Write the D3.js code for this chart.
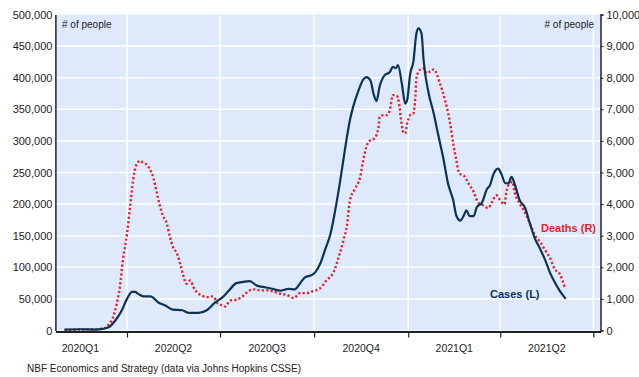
<!DOCTYPE html>
<html>
<head>
<meta charset="utf-8">
<script src="https://cdn.jsdelivr.net/npm/d3@7"></script>
<style>
  html, body { margin: 0; padding: 0; background: #ffffff; }
  svg { display: block; font-family: "Liberation Sans", Arial, sans-serif; }
</style>
</head>
<body>
<svg id="chart" width="639" height="377"></svg>
<script>
// Daily new cases (7-day average), left axis
const caseDates = ["2020-01-31","2020-02-15","2020-03-01","2020-03-08","2020-03-14","2020-03-22","2020-03-27","2020-04-01","2020-04-06","2020-04-09","2020-04-12","2020-04-17","2020-04-24","2020-05-02","2020-05-08","2020-05-16","2020-05-25","2020-05-31","2020-06-10","2020-06-18","2020-06-26","2020-07-03","2020-07-09","2020-07-17","2020-07-24","2020-07-30","2020-08-06","2020-08-12","2020-08-21","2020-08-29","2020-09-06","2020-09-12","2020-09-17","2020-09-22","2020-09-29","2020-10-02","2020-10-07","2020-10-12","2020-10-17","2020-10-21","2020-10-26","2020-10-31","2020-11-05","2020-11-08","2020-11-13","2020-11-18","2020-11-21","2020-11-25","2020-11-28","2020-12-01","2020-12-04","2020-12-09","2020-12-14","2020-12-17","2020-12-20","2020-12-22","2020-12-26","2020-12-29","2020-12-31","2021-01-03","2021-01-06","2021-01-09","2021-01-11","2021-01-14","2021-01-16","2021-01-21","2021-01-26","2021-01-30","2021-02-04","2021-02-09","2021-02-14","2021-02-17","2021-02-21","2021-02-24","2021-02-27","2021-03-02","2021-03-06","2021-03-09","2021-03-14","2021-03-19","2021-03-22","2021-03-25","2021-03-30","2021-04-02","2021-04-06","2021-04-09","2021-04-12","2021-04-15","2021-04-20","2021-04-25","2021-04-30","2021-05-05","2021-05-10","2021-05-15","2021-05-20","2021-05-24","2021-05-29","2021-06-04"];
const caseValues = [1500,2000,1500,2500,5000,19000,32000,50000,61000,61000,58000,54000,54000,44000,40000,33000,32000,28000,28000,32000,44000,52000,62000,75000,77000,78000,71000,69000,66000,63000,66000,65000,74000,84000,88000,92000,106000,129000,153000,185000,232000,285000,333000,353000,378000,397000,401000,396000,375000,363000,386000,404000,409000,417000,415000,420000,388000,359000,365000,407000,425000,470000,478000,470000,428000,375000,343000,312000,275000,232000,206000,182000,174000,181000,190000,181000,181000,195000,202000,224000,230000,246000,256000,248000,233000,233000,243000,232000,206000,195000,169000,145000,129000,111000,90000,77000,63000,50000];

// Daily deaths (7-day average), right axis
const deathDates = ["2020-01-31","2020-02-15","2020-03-01","2020-03-09","2020-03-14","2020-03-19","2020-03-22","2020-03-25","2020-03-28","2020-04-01","2020-04-04","2020-04-07","2020-04-10","2020-04-14","2020-04-17","2020-04-20","2020-04-23","2020-04-27","2020-04-30","2020-05-03","2020-05-06","2020-05-10","2020-05-13","2020-05-16","2020-05-20","2020-05-23","2020-05-26","2020-05-29","2020-06-02","2020-06-05","2020-06-10","2020-06-15","2020-06-19","2020-06-24","2020-06-29","2020-07-04","2020-07-06","2020-07-11","2020-07-17","2020-07-24","2020-07-30","2020-08-04","2020-08-09","2020-08-16","2020-08-22","2020-08-29","2020-09-04","2020-09-11","2020-09-17","2020-09-24","2020-09-30","2020-10-07","2020-10-13","2020-10-20","2020-10-26","2020-10-30","2020-11-02","2020-11-05","2020-11-10","2020-11-15","2020-11-18","2020-11-21","2020-11-25","2020-11-29","2020-12-03","2020-12-04","2020-12-08","2020-12-11","2020-12-14","2020-12-17","2020-12-21","2020-12-23","2020-12-25","2020-12-27","2020-12-29","2020-12-31","2021-01-03","2021-01-06","2021-01-08","2021-01-09","2021-01-12","2021-01-16","2021-01-19","2021-01-22","2021-01-26","2021-02-01","2021-02-06","2021-02-11","2021-02-14","2021-02-17","2021-02-20","2021-02-24","2021-03-01","2021-03-06","2021-03-10","2021-03-15","2021-03-20","2021-03-24","2021-03-28","2021-04-01","2021-04-05","2021-04-07","2021-04-10","2021-04-13","2021-04-15","2021-04-20","2021-04-25","2021-04-30","2021-05-05","2021-05-10","2021-05-15","2021-05-20","2021-05-24","2021-05-29","2021-06-03"];
const deathValues = [20,30,40,60,180,475,845,1370,2220,3065,3910,4755,5230,5370,5300,5260,5125,4810,4385,3960,3645,3380,2960,2640,2430,2115,1745,1480,1585,1370,1165,1080,1055,1080,845,790,760,950,973,1110,1270,1300,1270,1270,1236,1163,1131,1024,1183,1183,1246,1340,1585,1850,2430,2906,3300,4120,4490,4860,5390,5810,6020,6077,6445,6760,6815,6815,6975,7450,7418,7185,6657,6286,6235,6550,6815,6870,7395,7980,8240,8295,8137,8190,8264,7820,7290,6552,5918,5390,4967,4913,4650,4385,4067,3963,3877,4067,4280,4120,3995,4385,4650,4700,4385,4015,3750,3382,3010,2800,2536,2272,1955,1797,1373];

// Axis ticks and labels
const leftTicks = [0,50000,100000,150000,200000,250000,300000,350000,400000,450000,500000];
const rightTicks = [0,1000,2000,3000,4000,5000,6000,7000,8000,9000,10000];
const quarterBounds = ["2020-04-01","2020-07-01","2020-10-01","2021-01-01","2021-04-01","2021-07-01"];
const quarterLabels = ["2020Q1","2020Q2","2020Q3","2020Q4","2021Q1","2021Q2"];
const quarterStarts = ["2020-01-01","2020-04-01","2020-07-01","2020-10-01","2021-01-01","2021-04-01"];

const parse = d3.utcParse("%Y-%m-%d");
const cases = caseDates.map((d, i) => ({ date: parse(d), value: caseValues[i] }));
const deaths = deathDates.map((d, i) => ({ date: parse(d), value: deathValues[i] }));

const svg = d3.select("#chart");
const plot = { left: 55.4, right: 600.5, top: 14.5, bottom: 330.5 };

const x = d3.scaleUtc()
  .domain([parse("2020-01-22"), parse("2021-07-08")])
  .range([plot.left, plot.right]);
const yL = d3.scaleLinear().domain([0, 500000]).range([plot.bottom, plot.top]);
const yR = d3.scaleLinear().domain([0, 10000]).range([plot.bottom, plot.top]);

// plot background
svg.append("rect")
  .attr("x", plot.left).attr("y", plot.top)
  .attr("width", plot.right - plot.left).attr("height", plot.bottom - plot.top)
  .attr("fill", "#deeafb");

// horizontal gridlines
svg.append("g").selectAll("line")
  .data(leftTicks.slice(1, -1))
  .join("line")
  .attr("x1", plot.left).attr("x2", plot.right)
  .attr("y1", d => yL(d)).attr("y2", d => yL(d))
  .attr("stroke", "#ffffff").attr("stroke-width", 1.5);

// vertical gridlines at quarter boundaries
svg.append("g").selectAll("line")
  .data(quarterBounds.map(parse))
  .join("line")
  .attr("x1", d => x(d)).attr("x2", d => x(d))
  .attr("y1", plot.top).attr("y2", plot.bottom)
  .attr("stroke", "#ffffff").attr("stroke-width", 1.5);

// left axis
const leftAxis = svg.append("g")
  .attr("transform", `translate(${plot.left},0)`)
  .call(d3.axisLeft(yL).tickValues(leftTicks).tickFormat(d3.format(",")).tickSize(0).tickPadding(3));
leftAxis.select(".domain").attr("stroke", "#222").attr("stroke-width", 1.5);
leftAxis.selectAll("text").attr("font-size", 11).attr("fill", "#222").attr("font-family", "Liberation Sans, Arial, sans-serif");

// right axis
const rightAxis = svg.append("g")
  .attr("transform", `translate(${plot.right},0)`)
  .call(d3.axisRight(yR).tickValues(rightTicks).tickFormat(d3.format(",")).tickSize(3).tickPadding(3));
rightAxis.select(".domain").attr("stroke", "#222").attr("stroke-width", 1.5);
rightAxis.selectAll("line").attr("stroke", "#222");
rightAxis.selectAll("text").attr("font-size", 11).attr("fill", "#222").attr("font-family", "Liberation Sans, Arial, sans-serif");

// bottom axis with ticks at quarter boundaries
const bottomAxis = svg.append("g")
  .attr("transform", `translate(0,${plot.bottom + 1})`)
  .call(d3.axisBottom(x).tickValues(quarterBounds.map(parse)).tickFormat("").tickSize(6).tickSizeOuter(0));
bottomAxis.select(".domain").attr("stroke", "#222").attr("stroke-width", 2);
bottomAxis.selectAll(".tick line").attr("stroke", "#222").attr("stroke-width", 1.2);

// quarter labels centred in each quarter
svg.append("g").selectAll("text")
  .data(quarterLabels)
  .join("text")
  .attr("x", (d, i) => {
    const a = x(parse(quarterStarts[i]));
    const b = x(parse(quarterBounds[i]));
    return (a + b) / 2;
  })
  .attr("y", 352)
  .attr("text-anchor", "middle")
  .attr("font-size", 10.5)
  .attr("fill", "#222")
  .text(d => d);

// series lines
const lineL = d3.line().x(d => x(d.date)).y(d => yL(d.value)).curve(d3.curveMonotoneX);
const lineR = d3.line().x(d => x(d.date)).y(d => yR(d.value)).curve(d3.curveMonotoneX);

svg.append("path")
  .datum(deaths)
  .attr("d", lineR)
  .attr("fill", "none")
  .attr("stroke", "#e3232d")
  .attr("stroke-width", 2.4)
  .attr("stroke-dasharray", "2.2,2.2");

svg.append("path")
  .datum(cases)
  .attr("d", lineL)
  .attr("fill", "none")
  .attr("stroke", "#0c3354")
  .attr("stroke-width", 2.2)
  .attr("stroke-linejoin", "round");

// unit labels
svg.append("text").attr("x", 62).attr("y", 28)
  .attr("font-size", 10).attr("fill", "#222").text("# of people");
svg.append("text").attr("x", 594).attr("y", 28).attr("text-anchor", "end")
  .attr("font-size", 10).attr("fill", "#222").text("# of people");

// series labels
svg.append("text").attr("x", 541).attr("y", 232)
  .attr("font-size", 11).attr("font-weight", "bold").attr("fill", "#e3232d").text("Deaths (R)");
svg.append("text").attr("x", 490).attr("y", 298)
  .attr("font-size", 11).attr("font-weight", "bold").attr("fill", "#0c3354").text("Cases (L)");

// source note
svg.append("text").attr("x", 27).attr("y", 372)
  .attr("font-size", 10).attr("fill", "#222")
  .text("NBF Economics and Strategy (data via Johns Hopkins CSSE)");
</script>
</body>
</html>
